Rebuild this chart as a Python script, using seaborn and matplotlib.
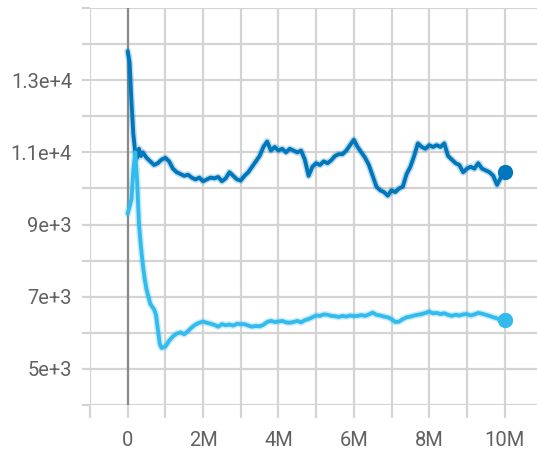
import pandas as pd
import seaborn as sns
import matplotlib.pyplot as plt
from matplotlib.ticker import MultipleLocator, FuncFormatter

# Step (in millions) and value for the two runs
dark_steps = [0.0, 0.05, 0.1, 0.15, 0.2, 0.25, 0.3, 0.35, 0.4, 0.5, 0.6, 0.7, 0.8, 0.9,
              1.0, 1.1, 1.2, 1.3, 1.4, 1.5, 1.6, 1.7, 1.8, 1.9, 2.0, 2.1, 2.2, 2.3, 2.4,
              2.5, 2.6, 2.7, 2.8, 2.9, 3.0, 3.1, 3.2, 3.3, 3.4, 3.5, 3.6, 3.7, 3.8, 3.9,
              4.0, 4.1, 4.2, 4.3, 4.4, 4.5, 4.6, 4.7, 4.8, 4.9, 5.0, 5.1, 5.2, 5.3, 5.4,
              5.5, 5.6, 5.7, 5.8, 5.9, 6.0, 6.1, 6.2, 6.3, 6.4, 6.5, 6.6, 6.7, 6.8, 6.9,
              7.0, 7.1, 7.2, 7.3, 7.4, 7.5, 7.6, 7.7, 7.8, 7.9, 8.0, 8.1, 8.2, 8.3, 8.4,
              8.5, 8.6, 8.7, 8.8, 8.9, 9.0, 9.1, 9.2, 9.3, 9.4, 9.5, 9.6, 9.7, 9.8, 9.9, 10.0]
dark_values = [13800, 13500, 12400, 11500, 11000, 10850, 11100, 10900, 11000, 10850, 10750,
               10650, 10700, 10800, 10850, 10750, 10550, 10450, 10400, 10350, 10380, 10300,
               10250, 10300, 10200, 10250, 10300, 10280, 10320, 10200, 10280, 10450, 10350,
               10250, 10220, 10350, 10450, 10600, 10750, 10900, 11150, 11300, 11050, 11150,
               11050, 11100, 11000, 11100, 11050, 11000, 11050, 10800, 10350, 10600, 10700,
               10650, 10750, 10700, 10780, 10900, 10950, 10950, 11050, 11200, 11350, 11150,
               11000, 10850, 10650, 10350, 10050, 9950, 9900, 9800, 9950, 9900, 10000, 10050,
               10400, 10600, 10900, 11250, 11150, 11100, 11200, 11150, 11200, 11150, 11250,
               10900, 10800, 10700, 10650, 10450, 10550, 10600, 10550, 10700, 10550, 10500,
               10450, 10350, 10100, 10300, 10450]

light_steps = [0.0, 0.05, 0.1, 0.15, 0.2, 0.25, 0.3, 0.35, 0.4, 0.45, 0.5, 0.6, 0.7, 0.75,
               0.8, 0.85, 0.9, 1.0, 1.1, 1.2, 1.3, 1.4, 1.5, 1.6, 1.7, 1.8, 1.9, 2.0, 2.1,
               2.2, 2.3, 2.4, 2.5, 2.6, 2.7, 2.8, 2.9, 3.0, 3.1, 3.2, 3.3, 3.4, 3.5, 3.6,
               3.7, 3.8, 3.9, 4.0, 4.1, 4.2, 4.3, 4.4, 4.5, 4.6, 4.7, 4.8, 4.9, 5.0, 5.1,
               5.2, 5.3, 5.4, 5.5, 5.6, 5.7, 5.8, 5.9, 6.0, 6.1, 6.2, 6.3, 6.4, 6.5, 6.6,
               6.7, 6.8, 6.9, 7.0, 7.1, 7.2, 7.3, 7.4, 7.5, 7.6, 7.7, 7.8, 7.9, 8.0, 8.1,
               8.2, 8.3, 8.4, 8.5, 8.6, 8.7, 8.8, 8.9, 9.0, 9.1, 9.2, 9.3, 9.4, 9.5, 9.6,
               9.7, 9.8, 9.9, 10.0]
light_values = [9300, 9500, 9700, 10500, 11000, 10200, 9000, 8400, 7900, 7500, 7200, 6800,
                6650, 6500, 6100, 5700, 5580, 5620, 5780, 5900, 5980, 6010, 5960, 6050, 6150,
                6230, 6280, 6310, 6280, 6250, 6220, 6170, 6240, 6210, 6230, 6200, 6250, 6240,
                6240, 6200, 6170, 6190, 6180, 6220, 6300, 6330, 6300, 6310, 6330, 6290, 6280,
                6300, 6330, 6290, 6350, 6380, 6430, 6480, 6470, 6510, 6500, 6470, 6460, 6440,
                6470, 6450, 6480, 6460, 6470, 6490, 6470, 6510, 6560, 6500, 6480, 6450, 6430,
                6380, 6300, 6310, 6380, 6430, 6450, 6480, 6500, 6520, 6550, 6590, 6540, 6550,
                6520, 6540, 6500, 6470, 6500, 6480, 6510, 6520, 6480, 6510, 6550, 6530, 6500,
                6470, 6430, 6400, 6360, 6350]

dark_color = '#0077bb'
light_color = '#33bbee'

sns.set_style('white')
plt.rcParams['font.family'] = ['Roboto', 'DejaVu Sans']

fig = plt.figure(figsize=(5.37, 4.54), dpi=100)
ax = fig.add_axes([90 / 537, 49 / 454, 447 / 537, 397 / 454])

dark = pd.DataFrame({'step': [s * 1e6 for s in dark_steps], 'value': dark_values})
light = pd.DataFrame({'step': [s * 1e6 for s in light_steps], 'value': light_values})

# zero line
ax.axvline(0, color='#8a8a8a', lw=1.6, zorder=1)

for df, c in [(dark, dark_color), (light, light_color)]:
    # soft halo behind the smoothed line
    sns.lineplot(x='step', y='value', data=df, ax=ax, color=c, lw=5, alpha=0.25,
                 estimator=None, sort=False, zorder=3)
    sns.lineplot(x='step', y='value', data=df, ax=ax, color=c, lw=2.8,
                 estimator=None, sort=False, zorder=4)
    ax.plot(df['step'].iloc[-1], df['value'].iloc[-1], 'o', color=c, ms=10, zorder=5)

ax.set_xlim(-1e6, 10.86e6)
ax.set_ylim(4000, 15000)

ax.xaxis.set_major_locator(MultipleLocator(2e6))
ax.xaxis.set_minor_locator(MultipleLocator(1e6))
ax.yaxis.set_minor_locator(MultipleLocator(1000))
ax.yaxis.set_major_locator(plt.FixedLocator([5000, 7000, 9000, 11000, 13000]))

ax.xaxis.set_major_formatter(FuncFormatter(lambda v, p: '0' if v == 0 else f'{v / 1e6:.0f}M'))
ax.yaxis.set_major_formatter(FuncFormatter(lambda v, p: f'{v / 1000:g}e+3' if v < 10000
                                           else f'{v / 10000:g}e+4'))

grid_c = '#d4d4d4'
ax.grid(True, which='both', color=grid_c, lw=1.6, zorder=0)
ax.tick_params(axis='x', which='both', length=9, width=1.6, color=grid_c, pad=10,
               labelsize=14.5, labelcolor='#616161', bottom=True)
ax.tick_params(axis='y', which='both', length=6, width=1.6, color=grid_c, pad=7,
               labelsize=14.5, labelcolor='#616161', left=True)
for s in ax.spines.values():
    s.set_visible(False)

ax.set_xlabel('')
ax.set_ylabel('')

plt.savefig('out.png', dpi=100)
